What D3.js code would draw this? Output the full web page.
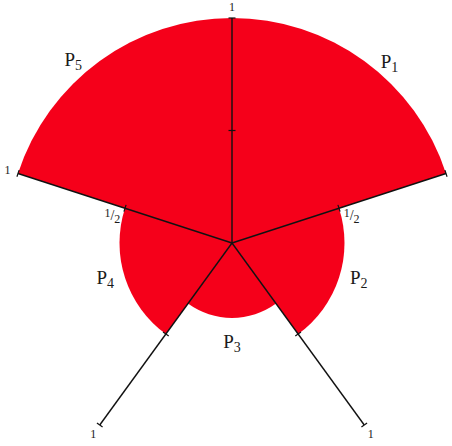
<!DOCTYPE html>
<html lang="en">
<head>
<meta charset="UTF-8">
<title>polar area</title>
<script src="https://cdn.jsdelivr.net/npm/d3@7"></script>
<style>
	body { margin: 0; background: #fff; }
	text { font-family: "Liberation Serif", "DejaVu Serif", serif; fill: #1a1a1a; }
</style>
</head>
<body>
<script>
var categories = ['1', '2', '3', '4', '5'];   // subscript of P
var values = [1, 0.5, 0.333, 0.5, 1];
var tickValues = [0.5, 1];
// which axis shows which tick label (as in the picture)
var halfLabelOn = [false, true, false, false, true];
var oneLabelOn = [true, false, true, true, true];

var width = 452,
	height = 446,
	cx = 232,
	cy = 243,
	R = 225;

var svg = d3.select('body').append('svg')
	.attr('width', width)
	.attr('height', height);

var g = svg.append('g')
	.attr('transform', `translate(${cx},${cy})`);

var rScale = d3.scaleLinear()
	.domain([0, 1])
	.range([0, R]);

var step = 2 * Math.PI / categories.length;

var arc = d3.arc()
	.innerRadius(0)
	.outerRadius(d => rScale(d.v))
	.startAngle(d => d.i * step)
	.endAngle(d => (d.i + 1) * step);

var sectors = values.map((v, i) => ({ v: v, i: i }));

g.selectAll('path.sector')
	.data(sectors)
	.enter().append('path')
	.attr('class', 'sector')
	.attr('d', arc)
	.attr('fill', '#f5001a');

// axes
function pt(angle, r) {
	return [r * Math.sin(angle), -r * Math.cos(angle)];
}

var axes = categories.map((c, i) => i);

g.selectAll('line.axis')
	.data(axes)
	.enter().append('line')
	.attr('class', 'axis')
	.attr('x1', 0).attr('y1', 0)
	.attr('x2', i => pt(i * step, rScale(1))[0])
	.attr('y2', i => pt(i * step, rScale(1))[1])
	.attr('stroke', '#111')
	.attr('stroke-width', 1.4);

// tick marks
var ticks = [];
axes.forEach(i => tickValues.forEach(t => ticks.push({ i: i, t: t })));

g.selectAll('line.tick')
	.data(ticks)
	.enter().append('line')
	.attr('class', 'tick')
	.attr('transform', d => {
		var p = pt(d.i * step, rScale(d.t));
		return `translate(${p[0]},${p[1]}) rotate(${d.i * 72})`;
	})
	.attr('x1', -3.5).attr('x2', 3.5)
	.attr('y1', 0).attr('y2', 0)
	.attr('stroke', '#111')
	.attr('stroke-width', 1.2);

// "1" labels beyond the axis end
g.selectAll('text.one')
	.data(axes.filter(i => oneLabelOn[i]))
	.enter().append('text')
	.attr('class', 'one')
	.attr('x', i => pt(i * step, rScale(1) + 11)[0])
	.attr('y', i => pt(i * step, rScale(1) + 11)[1] + 4)
	.attr('text-anchor', 'middle')
	.attr('font-size', 12)
	.text('1');

// "1/2" labels below the axis at the half tick
var half = g.selectAll('text.half')
	.data(axes.filter(i => halfLabelOn[i]))
	.enter().append('text')
	.attr('class', 'half')
	.attr('transform', i => {
		var a = i * step;
		var p = pt(a, rScale(0.5));
		var side = Math.sin(a) > 0 ? 1 : -1;
		// along the axis, then a little below it
		var x = p[0] + Math.sin(a) * 9 + side * Math.abs(Math.cos(a)) * 13;
		var y = p[1] - Math.cos(a) * 9 + Math.sin(Math.abs(a - Math.PI)) * 0 + 12.4;
		return `translate(${x},${y})`;
	})
	.attr('text-anchor', 'middle')
	.attr('font-size', 12);

half.append('tspan').attr('dy', -1).text('1');
half.append('tspan').attr('font-size', 14).attr('dy', 3).text('/');
half.append('tspan').attr('dy', 3).text('2');

// category labels P_i
var labelShift = [5, -2.5, 0, 2.5, -5];
var labelPad = [15, 19, 24, 19, 17];

var lab = g.selectAll('text.cat')
	.data(sectors)
	.enter().append('text')
	.attr('class', 'cat')
	.attr('transform', d => {
		var a = (d.i + 0.5) * step + labelShift[d.i] * Math.PI / 180;
		var p = pt(a, rScale(d.v) + labelPad[d.i]);
		return `translate(${p[0]},${p[1] + 6})`;
	})
	.attr('text-anchor', 'middle')
	.attr('font-size', 19);

lab.append('tspan').text('P');
lab.append('tspan').attr('font-size', 14).attr('dy', 4).text(d => categories[d.i]);
</script>
</body>
</html>
